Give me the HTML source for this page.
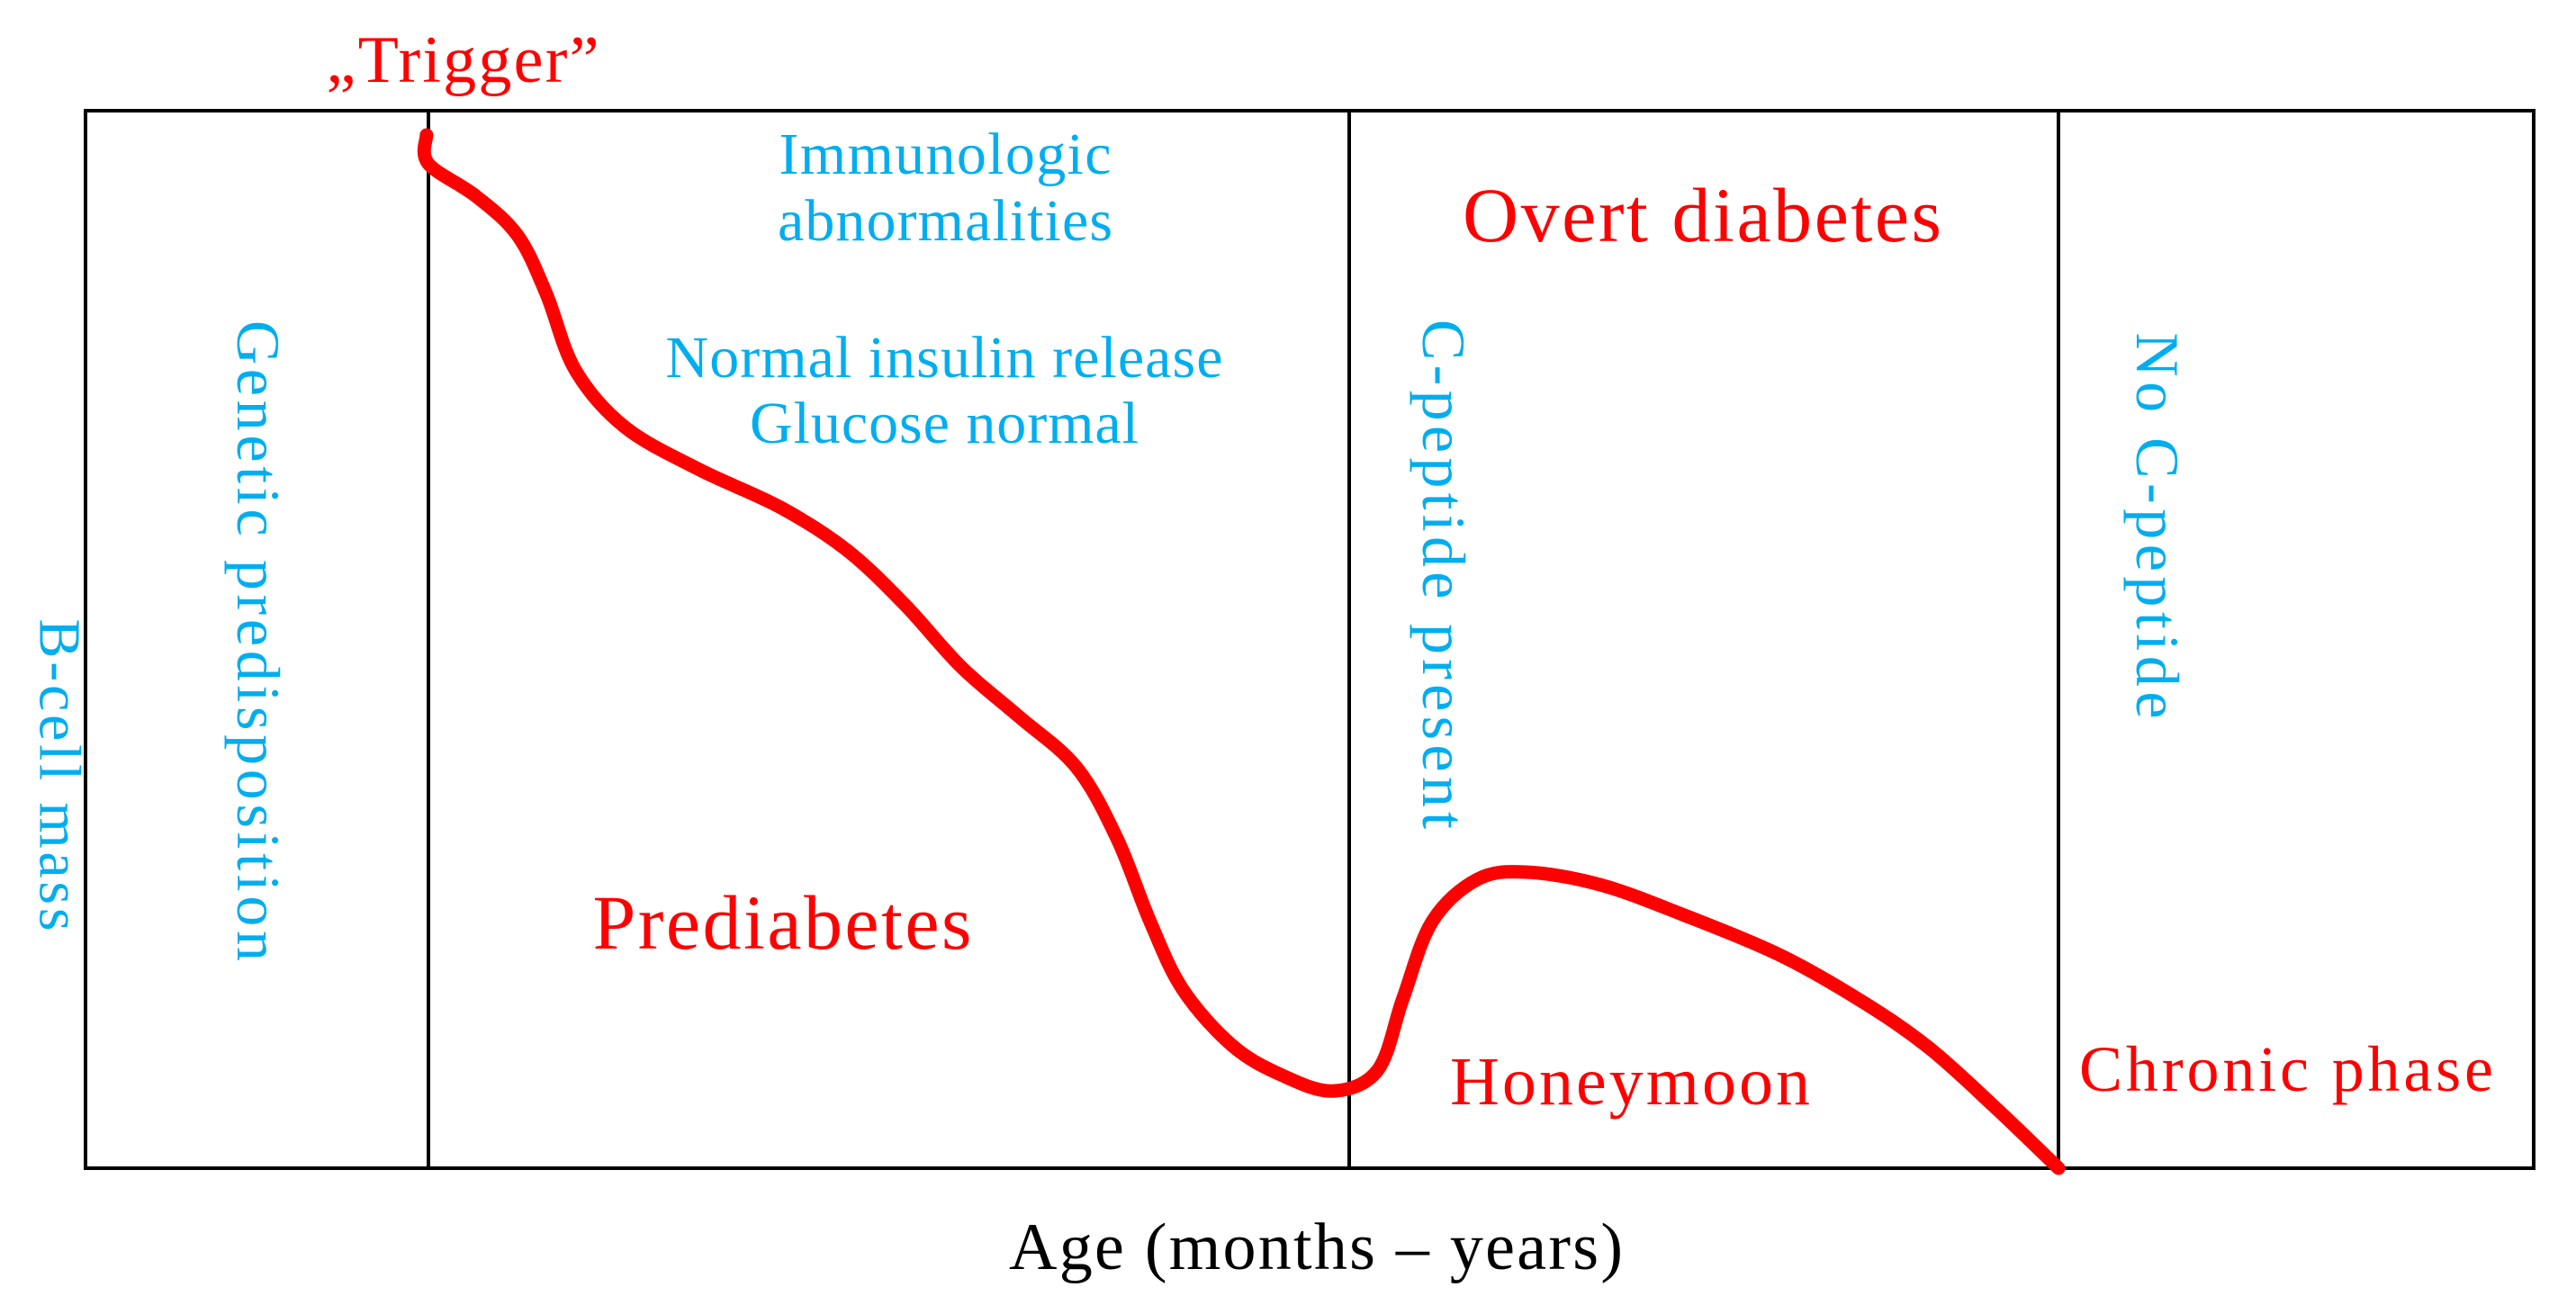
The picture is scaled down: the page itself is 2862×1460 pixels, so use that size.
<!DOCTYPE html>
<html><head><meta charset="utf-8"><style>
html,body{margin:0;padding:0;background:#fff;}
svg{display:block;font-family:"Liberation Serif",serif;}
</style></head><body>
<svg id="chart" width="2862" height="1460" viewBox="0 0 2862 1460" xmlns="http://www.w3.org/2000/svg">
<rect x="95" y="123" width="2720" height="1175" fill="none" stroke="#000" stroke-width="4"/>
<line x1="476" y1="123" x2="476" y2="1298" stroke="#000" stroke-width="4"/>
<line x1="1499" y1="123" x2="1499" y2="1298" stroke="#000" stroke-width="4"/>
<line x1="2287" y1="123" x2="2287" y2="1298" stroke="#000" stroke-width="4"/>
<g id="curve-layer"></g>
<text x="514" y="91" font-size="74" fill="#f00" text-anchor="middle" textLength="303">„Trigger”</text>
<text x="1050" y="193" font-size="66" fill="#00aeef" text-anchor="middle" textLength="369">Immunologic</text>
<text x="1050" y="267" font-size="66" fill="#00aeef" text-anchor="middle" textLength="372">abnormalities</text>
<text x="1049" y="419" font-size="66" fill="#00aeef" text-anchor="middle" textLength="619">Normal insulin release</text>
<text x="1049" y="492" font-size="66" fill="#00aeef" text-anchor="middle" textLength="432">Glucose normal</text>
<text x="869" y="1054" font-size="86" fill="#f00" text-anchor="middle" textLength="421">Prediabetes</text>
<text x="1891" y="268" font-size="86" fill="#f00" text-anchor="middle" textLength="532">Overt diabetes</text>
<text x="1811" y="1227" font-size="76" fill="#f00" text-anchor="middle" textLength="400">Honeymoon</text>
<text x="2540" y="1212" font-size="72" fill="#f00" text-anchor="middle" textLength="460">Chronic phase</text>
<text x="1462" y="1410" font-size="74" fill="#000" text-anchor="middle" textLength="682">Age (months – years)</text>
<text transform="translate(66,861) rotate(90)" font-size="66" fill="#00aeef" text-anchor="middle" dominant-baseline="central" textLength="347">B-cell mass</text>
<text transform="translate(287,712) rotate(90)" font-size="68" fill="#00aeef" text-anchor="middle" dominant-baseline="central" textLength="712">Genetic predisposition</text>
<text transform="translate(1604,638) rotate(90)" font-size="68" fill="#00aeef" text-anchor="middle" dominant-baseline="central" textLength="566">C-peptide present</text>
<text transform="translate(2397,584) rotate(90)" font-size="68" fill="#00aeef" text-anchor="middle" dominant-baseline="central" textLength="429">No C-peptide</text>
</svg>
<script>
const timeValues = [13.93,14.0,15.96,17.65,18.82,20.0,22.02,25.04,28.38,31.07,33.42,35.77,38.13,40.48,42.13,43.49,44.82,46.84,48.86,50.96,52.79,53.82,55.0,56.84,58.86,61.88,65.22,69.26,72.61,75.29,77.98,80.59];
const betaCellMass = [97.7,95.0,91.9,88.2,82.7,75.5,70.1,66.1,62.5,58.5,53.4,47.4,42.7,37.9,31.2,23.3,16.9,11.6,8.8,7.3,9.3,16.1,23.3,27.3,28.0,26.8,24.0,20.1,15.7,11.4,5.8,0];
const X0=95, X1=2815, Y0=1298, Y1=123;
function xScale(v){return X0+(X1-X0)*v/100;}
function yScale(v){return Y0-(Y0-Y1)*v/100;}
const pts = timeValues.map((t,i)=>[xScale(t),yScale(betaCellMass[i])]);
let d = 'M'+pts[0][0]+','+pts[0][1];
for(let i=0;i<pts.length-1;i++){
  const p0=pts[Math.max(0,i-1)],p1=pts[i],p2=pts[i+1],p3=pts[Math.min(pts.length-1,i+2)];
  const c1=[p1[0]+(p2[0]-p0[0])/6,p1[1]+(p2[1]-p0[1])/6];
  const c2=[p2[0]-(p3[0]-p1[0])/6,p2[1]-(p3[1]-p1[1])/6];
  d+=' C'+c1[0]+','+c1[1]+' '+c2[0]+','+c2[1]+' '+p2[0]+','+p2[1];
}
const path=document.createElementNS('http://www.w3.org/2000/svg','path');
path.setAttribute('d',d);
path.setAttribute('fill','none');
path.setAttribute('stroke','#f00');
path.setAttribute('stroke-width','15');
path.setAttribute('stroke-linecap','round');
path.setAttribute('stroke-linejoin','round');


document.getElementById('curve-layer').appendChild(path);
</script>
</body></html>
